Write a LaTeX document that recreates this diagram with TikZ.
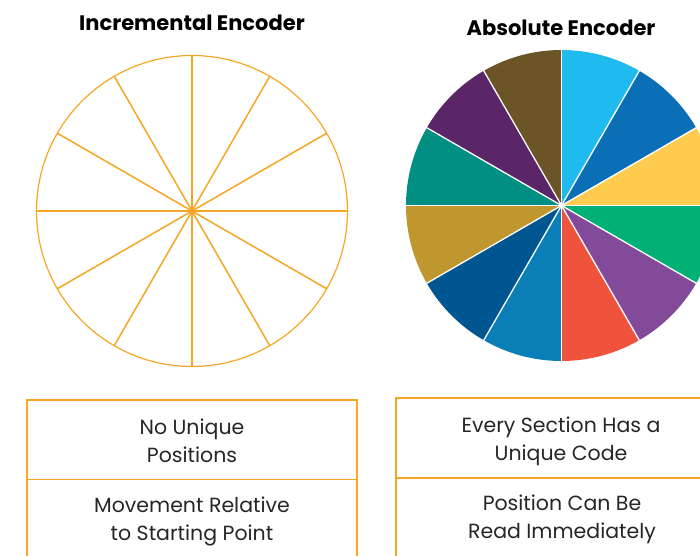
\documentclass[tikz,border=0pt]{standalone}
\usepackage{fontspec}
\setmainfont{Poppins}
\definecolor{encorange}{HTML}{F5A623}
\definecolor{c1}{HTML}{1FBBEE}
\definecolor{c2}{HTML}{0B6FB8}
\definecolor{c3}{HTML}{FFCC4F}
\definecolor{c4}{HTML}{00B075}
\definecolor{c5}{HTML}{844A9A}
\definecolor{c6}{HTML}{F0533C}
\definecolor{c7}{HTML}{0A7FB7}
\definecolor{c8}{HTML}{005690}
\definecolor{c9}{HTML}{C0962F}
\definecolor{c10}{HTML}{008F82}
\definecolor{c11}{HTML}{5A2667}
\definecolor{c12}{HTML}{6B5425}
\begin{document}
\begin{tikzpicture}[x=1pt,y=1pt,
  titletext/.style={font=\fontsize{21}{25}\selectfont\bfseries, text=black},
  bodytext/.style={font=\fontsize{20.5}{28}\selectfont, text=black!85, align=center},
  boxline/.style={draw=encorange, line width=1.3pt},
  spoke/.style={draw=encorange, line width=1.5pt},
  wedgeline/.style={draw=white, line width=1.3pt}]
\useasboundingbox (0,0) rectangle (700,555);
\clip (0,0) rectangle (700,555);
% titles
\node[titletext] (t1) at (192,532) {Incremental Encoder};
\node[titletext] (t2) at (561,527) {Absolute Encoder};
% incremental encoder
\coordinate (ic) at (192,344);
\draw[spoke, line width=1.2pt] (ic) circle (155.5);
\foreach \a in {0,30,...,330} {
  \draw[spoke] (ic) -- ++(\a:155.5);
}
% absolute encoder
\coordinate (ac) at (561.5,349.5);
\foreach \i [evaluate=\i as \s using 120-30*\i] in {1,...,12} {
  \fill[c\i] (ac) -- ++(\s:155.5) arc[start angle=\s, end angle=\s-30, radius=155.5] -- cycle;
}
\foreach \a in {0,30,...,330} {
  \draw[wedgeline] (ac) -- ++(\a:156);
}
% boxes
\draw[boxline] (27,-10) -- (27,155) -- (357,155) -- (357,-10);
\draw[boxline] (27,75.5) -- (357,75.5);
\draw[boxline] (396,-10) -- (396,157) -- (710,157);
\draw[boxline] (396,77) -- (710,77);
\node[bodytext] (b1) at (192,114) {No Unique\\Positions};
\node[bodytext] (b2) at (192,34) {Movement Relative\\to Starting Point};
\node[bodytext] (b3) at (561,114) {Every Section Has a\\Unique Code};
\node[bodytext] (b4) at (562,36) {Position Can Be\\Read Immediately};
\end{tikzpicture}
\end{document}
